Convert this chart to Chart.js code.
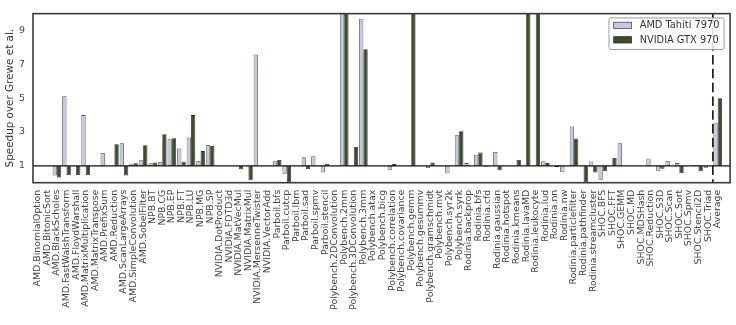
<!DOCTYPE html>
<html>
<head>
<meta charset="utf-8">
<script src="https://cdn.jsdelivr.net/npm/chart.js@4.4.1/dist/chart.umd.min.js"></script>
<style>
  html, body { margin: 0; padding: 0; background: #fff; }
  #wrap { width: 736px; height: 325px; }
</style>
</head>
<body>
<div id="wrap"><canvas id="grafico" width="736" height="325"></canvas></div>
<script>
// benchmark names, one per group of bars
const benchmarks = [
  'AMD.BinomialOption', 'AMD.BitonicSort', 'AMD.BlackScholes', 'AMD.FastWalshTransform',
  'AMD.FloydWarshall', 'AMD.MatrixMultiplication', 'AMD.MatrixTranspose', 'AMD.PrefixSum',
  'AMD.Reduction', 'AMD.ScanLargeArrays', 'AMD.SimpleConvolution', 'AMD.SobelFilter',
  'NPB.BT', 'NPB.CG', 'NPB.EP', 'NPB.FT', 'NPB.LU', 'NPB.MG', 'NPB.SP',
  'NVIDIA.DotProduct', 'NVIDIA.FDTD3d', 'NVIDIA.MatVecMul', 'NVIDIA.MatrixMul',
  'NVIDIA.MersenneTwister', 'NVIDIA.VectorAdd',
  'Parboil.bfs', 'Parboil.cutcp', 'Parboil.lbm', 'Parboil.sad', 'Parboil.spmv', 'Parboil.stencil',
  'Polybench.2DConvolution', 'Polybench.2mm', 'Polybench.3DConvolution', 'Polybench.3mm',
  'Polybench.atax', 'Polybench.bicg', 'Polybench.correlation', 'Polybench.covariance',
  'Polybench.gemm', 'Polybench.gesummv', 'Polybench.gramschmidt', 'Polybench.mvt',
  'Polybench.syr2k', 'Polybench.syrk',
  'Rodinia.backprop', 'Rodinia.bfs', 'Rodinia.cfd', 'Rodinia.gaussian', 'Rodinia.hotspot',
  'Rodinia.kmeans', 'Rodinia.lavaMD', 'Rodinia.leukocyte', 'Rodinia.lud', 'Rodinia.nn',
  'Rodinia.nw', 'Rodinia.particlefilter', 'Rodinia.pathfinder', 'Rodinia.streamcluster',
  'SHOC.BFS', 'SHOC.FFT', 'SHOC.GEMM', 'SHOC.MD', 'SHOC.MDSHash', 'SHOC.Reduction',
  'SHOC.S3D', 'SHOC.Scan', 'SHOC.Sort', 'SHOC.Spmv', 'SHOC.Stencil2D', 'SHOC.Triad',
  'Average'
];

// speedups (bars above 10 are cut by the axis)
const amdTahiti = [
  1.0, 1.0, 0.42, 5.11, 1.0, 4.0, 1.0, 1.76, 1.0, 2.33, 1.12, 1.33,
  1.15, 1.22, 2.57, 2.02, 2.67, 1.29, 2.23,
  1.0, 1.0, 1.0, 1.0, 7.58, 1.0,
  1.27, 0.53, 1.0, 1.5, 1.57, 0.6,
  1.0, 10.6, 1.0, 9.7, 1.0, 1.0, 0.76, 1.0, 1.0, 1.0, 0.87, 1.0, 0.54, 2.8,
  1.16, 1.66, 0.95, 1.82, 1.0, 1.0, 1.0, 1.0, 1.27, 1.0, 0.62, 3.33, 1.0, 1.25,
  0.18, 1.0, 2.33, 1.0, 1.0, 1.43, 0.68, 1.28, 1.16, 1.0, 1.05, 0.88,
  3.55
];
const nvidiaGtx = [
  1.0, 1.0, 0.31, 0.45, 0.45, 0.45, 1.0, 1.0, 2.27, 0.42, 1.15, 2.22,
  1.2, 2.87, 2.63, 1.24, 4.0, 1.87, 2.17,
  1.0, 1.0, 0.8, 0.14, 1.0, 1.0,
  1.35, 0.02, 1.0, 0.81, 1.0, 1.11,
  1.0, 10.6, 2.11, 7.9, 1.0, 1.0, 1.1, 1.0, 10.6, 1.0, 1.2, 1.0, 1.0, 3.04,
  1.0, 1.78, 1.0, 0.74, 1.0, 1.34, 10.6, 10.6, 1.16, 0.92, 1.0, 2.62, 0.02, 0.61,
  0.68, 1.46, 1.0, 1.0, 1.0, 1.0, 0.83, 1.0, 0.56, 1.0, 0.68, 1.0,
  5.0
];

const yTicks = [1, 3, 5, 7, 9];
const baseline = 1;          // bars start at "no speedup"
const averageSplit = 70.5;   // dashed line before the Average group

const FONT = 'DejaVu Sans';
const COLOR_AMD = '#c7c7e2';
const COLOR_NVIDIA = '#3b4d2b';

function toBars(values) {
  return values.map((v, i) => ({ x: i, y: [baseline, v] }));
}

// frame, line at y = 1 and dashed separator
const marco = {
  id: 'marco',
  afterDatasetsDraw(chart) {
    const { ctx, chartArea: a, scales } = chart;
    ctx.save();
    const y1 = scales.y.getPixelForValue(baseline);
    ctx.strokeStyle = '#111';
    ctx.lineWidth = 1.3;
    ctx.beginPath();
    ctx.moveTo(a.left, y1);
    ctx.lineTo(a.right, y1);
    ctx.stroke();

    const xd = scales.x.getPixelForValue(averageSplit);
    ctx.setLineDash([9.5, 4.3]);
    ctx.lineWidth = 1.6;
    ctx.beginPath();
    ctx.moveTo(xd, a.top);
    ctx.lineTo(xd, a.bottom);
    ctx.stroke();
    ctx.setLineDash([]);

    ctx.strokeStyle = '#3a3a3a';
    ctx.lineWidth = 1.6;
    ctx.strokeRect(a.left, a.top, a.right - a.left, a.bottom - a.top);
    ctx.restore();
  }
};

// legend box in the upper right corner of the plot
const leyenda = {
  id: 'leyenda',
  afterDraw(chart) {
    const { ctx, chartArea: a } = chart;
    const sets = chart.data.datasets;
    ctx.save();
    ctx.font = '9.8px "' + FONT + '"';
    const textW = Math.max(...sets.map(d => ctx.measureText(d.label).width));
    const padX = 4.7, swW = 17.7, swH = 6.3, gap = 8.3, rowH = 14.5;
    const w = padX + swW + gap + textW + padX;
    const h = 31.5;
    const x0 = a.right - 6 - w;
    const y0 = a.top + 4.3;

    ctx.fillStyle = 'rgba(255,255,255,0.85)';
    ctx.strokeStyle = '#9a9a9a';
    ctx.lineWidth = 1;
    ctx.beginPath();
    ctx.roundRect(x0, y0, w, h, 2);
    ctx.fill();
    ctx.stroke();

    sets.forEach((d, i) => {
      const cy = y0 + 7.4 + i * rowH;
      ctx.fillStyle = d.backgroundColor;
      ctx.fillRect(x0 + padX, cy - swH / 2, swW, swH);
      ctx.strokeStyle = d.borderColor;
      ctx.lineWidth = 0.8;
      ctx.strokeRect(x0 + padX, cy - swH / 2, swW, swH);
      ctx.fillStyle = '#333';
      ctx.textBaseline = 'middle';
      ctx.fillText(d.label, x0 + padX + swW + gap, cy + 0.5);
    });
    ctx.restore();
  }
};

new Chart(document.getElementById('grafico'), {
  type: 'bar',
  data: {
    datasets: [
      {
        label: 'AMD Tahiti 7970',
        data: toBars(amdTahiti),
        backgroundColor: COLOR_AMD,
        borderColor: '#4a4a5c',
        borderWidth: 0.8,
        borderSkipped: false,
        categoryPercentage: 0.9,
        barPercentage: 1,
        clip: 0
      },
      {
        label: 'NVIDIA GTX 970',
        data: toBars(nvidiaGtx),
        backgroundColor: COLOR_NVIDIA,
        borderColor: '#25301b',
        borderWidth: 0.8,
        borderSkipped: false,
        categoryPercentage: 0.9,
        barPercentage: 1,
        clip: 0
      }
    ]
  },
  options: {
    responsive: false,
    animation: false,
    layout: { padding: { top: 5, right: 3.3, left: 0, bottom: 0 } },
    plugins: {
      legend: { display: false },
      tooltip: { enabled: false }
    },
    scales: {
      x: {
        type: 'linear',
        min: -0.5,
        max: 72.3,
        offset: false,
        grid: { display: false, drawTicks: false },
        border: { display: false },
        afterBuildTicks: axis => { axis.ticks = benchmarks.map((_, i) => ({ value: i })); },
        afterFit: axis => { axis.height = 142.3; },
        ticks: {
          autoSkip: false,
          minRotation: 90,
          maxRotation: 90,
          padding: 7,
          color: '#444',
          font: { family: FONT, size: 9.4 },
          callback: v => benchmarks[v]
        }
      },
      y: {
        min: 0,
        max: 10,
        grid: { display: false, drawTicks: false },
        border: { display: false },
        afterBuildTicks: axis => { axis.ticks = yTicks.map(v => ({ value: v })); },
        afterFit: axis => { axis.width = 33; },
        ticks: {
          padding: 8,
          color: '#444',
          font: { family: FONT, size: 9.4 }
        },
        title: {
          display: true,
          text: 'Speedup over Grewe et al.',
          color: '#333',
          font: { family: FONT, size: 10.4 },
          padding: { top: 4, bottom: 4 }
        }
      }
    }
  },
  plugins: [marco, leyenda]
});
</script>
</body>
</html>
